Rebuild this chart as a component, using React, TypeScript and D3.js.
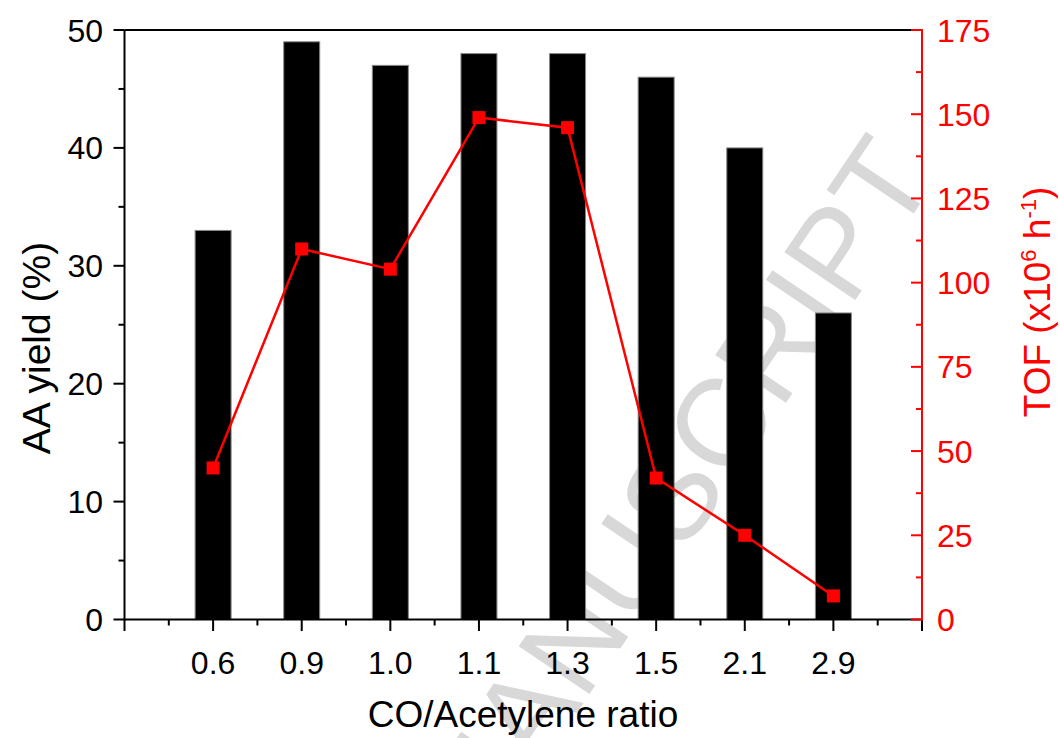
import * as d3 from 'd3';

const categories = ["0.6", "0.9", "1.0", "1.1", "1.3", "1.5", "2.1", "2.9"];
const yieldValues = [33, 49, 47, 48, 48, 46, 40, 26];
const tofValues = [45, 110, 104, 149, 146, 42, 25, 7];
const yieldTicks = [0, 10, 20, 30, 40, 50];
const tofTicks = [0, 25, 50, 75, 100, 125, 150, 175];

const FONT = "'Liberation Sans', Arial, sans-serif";
const RED = "#ff0000";

export default function App() {
    const width = 1060
    const height = 738

    const x = d3.scaleLinear().domain([0, categories.length + 1]).range([124.5, 922]);
    const yL = d3.scaleLinear().domain([0, 50]).range([619.5, 30]);
    const yR = d3.scaleLinear().domain([0, 175]).range([619.5, 30]);

    const line = d3.line<number>()
        .x((d, i) => x(i + 1))
        .y(d => yR(d));

    const xMajor = d3.range(0, categories.length + 2);
    const xMinor = d3.range(0.5, categories.length + 1, 1);
    const yLMinor = d3.range(5, 50, 10);
    const yRMinor = d3.range(12.5, 175, 25);

    const barW = 36
    const mk = 13

    return (
        <svg width={width} height={height} style={{ position: 'absolute', left: 0, top: 0, background: '#fff' }}
            fontFamily={FONT}>
            {/* watermark */}
            <text x={672} y={492} transform="rotate(-56 672 492)" textAnchor="middle" dy="0.36em"
                fontSize={124} fill="#d8d8d8">MANUSCRIPT</text>

            {/* bars */}
            {yieldValues.map((v, i) => (
                <rect key={i} x={x(i + 1) - barW / 2} y={yL(v)} width={barW} height={yL(0) - yL(v)}
                    fill="#000" stroke="#888" strokeWidth={1} />
            ))}

            {/* top frame */}
            <line x1={x(0)} x2={x(9)} y1={30} y2={30} stroke="#000" strokeWidth={2} />

            {/* bottom axis */}
            <line x1={x(0)} x2={x(9)} y1={619.5} y2={619.5} stroke="#000" strokeWidth={2} />
            {xMajor.map(t => (
                <line key={'xM' + t} x1={x(t)} x2={x(t)} y1={619.5} y2={631} stroke="#000" strokeWidth={2} />
            ))}
            {xMinor.map(t => (
                <line key={'xm' + t} x1={x(t)} x2={x(t)} y1={619.5} y2={625.5} stroke="#000" strokeWidth={2} />
            ))}
            {categories.map((c, i) => (
                <text key={c} x={x(i + 1)} y={674} textAnchor="middle" fontSize={32} fill="#000">{c}</text>
            ))}
            <text x={523} y={727} textAnchor="middle" fontSize={37} fill="#000">CO/Acetylene ratio</text>

            {/* left axis */}
            <line x1={x(0)} x2={x(0)} y1={30} y2={620.5} stroke="#000" strokeWidth={2} />
            {yieldTicks.map(t => (
                <g key={'yl' + t}>
                    <line x1={x(0) - 11} x2={x(0)} y1={yL(t)} y2={yL(t)} stroke="#000" strokeWidth={2} />
                    <text x={103} y={yL(t)} dy="0.36em" textAnchor="end" fontSize={32} fill="#000">{t}</text>
                </g>
            ))}
            {yLMinor.map(t => (
                <line key={'ylm' + t} x1={x(0) - 6} x2={x(0)} y1={yL(t)} y2={yL(t)} stroke="#000" strokeWidth={2} />
            ))}
            <text transform="translate(50 348) rotate(-90)" textAnchor="middle" fontSize={39} fill="#000">AA yield (%)</text>

            {/* right axis */}
            <line x1={x(9)} x2={x(9)} y1={29} y2={620.5} stroke={RED} strokeWidth={2} />
            <line x1={x(9) - 11} x2={x(9)} y1={30} y2={30} stroke={RED} strokeWidth={2} />
            {tofTicks.map(t => (
                <g key={'yr' + t}>
                    <line x1={x(9) - 11} x2={x(9)} y1={yR(t)} y2={yR(t)} stroke={RED} strokeWidth={2} />
                    <text x={937} y={yR(t)} dy="0.36em" textAnchor="start" fontSize={32} fill={RED}>{t}</text>
                </g>
            ))}
            {yRMinor.map(t => (
                <line key={'yrm' + t} x1={x(9) - 6} x2={x(9)} y1={yR(t)} y2={yR(t)} stroke={RED} strokeWidth={2} />
            ))}
            <text transform="translate(1050 302) rotate(-90)" textAnchor="middle" fontSize={37} fill={RED}>
                TOF (x10<tspan fontSize={22} dy={-14}>6</tspan><tspan dy={14}> h</tspan><tspan fontSize={22} dy={-14}>-1</tspan><tspan dy={14}>)</tspan>
            </text>

            {/* TOF line + markers */}
            <path d={line(tofValues) ?? ''} fill="none" stroke={RED} strokeWidth={2.5} />
            {tofValues.map((v, i) => (
                <rect key={'m' + i} x={x(i + 1) - mk / 2} y={yR(v) - mk / 2} width={mk} height={mk} fill={RED} />
            ))}
        </svg>
    )
}
